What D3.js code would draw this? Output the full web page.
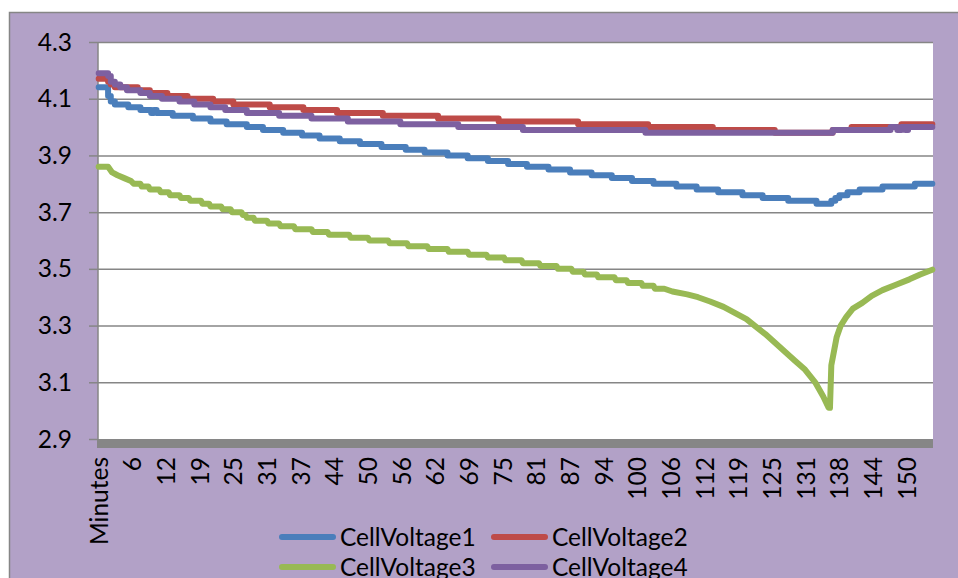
<!DOCTYPE html>
<html>
<head>
<meta charset="utf-8">
<script src="https://cdn.jsdelivr.net/npm/d3@7"></script>
<style>
  html, body { margin: 0; padding: 0; background: #ffffff; }
  svg { display: block; font-family: Lato, "Open Sans", sans-serif; }
</style>
</head>
<body>
<svg id="chart" width="958" height="578"></svg>
<script>
// ---------------- DATA ----------------
const seriesNames = ["CellVoltage1", "CellVoltage2", "CellVoltage3", "CellVoltage4"];
const seriesColors = ["#4a7ebb", "#be4b48", "#98b954", "#7d60a0"];

const yTicks = [2.9, 3.1, 3.3, 3.5, 3.7, 3.9, 4.1, 4.3];

const xTickLabels = ["Minutes", "6", "12", "19", "25", "31", "37", "44", "50", "56", "62", "69",
  "75", "81", "87", "94", "100", "106", "112", "119", "125", "131", "138", "144", "150"];
const xTickMinutes = [0, 6.25, 12.5, 18.75, 25, 31.25, 37.5, 43.75, 50, 56.25, 62.5, 68.75,
  75, 81.25, 87.5, 93.75, 100, 106.25, 112.5, 118.75, 125, 131.25, 137.5, 143.75, 150];

// step-change points [minute, volts] (value held until next point)
const cellVoltage1 = [[0,4.14],[1.75,4.11],[2.25,4.09],[3,4.08],[5.5,4.07],[7.75,4.06],[9.75,4.05],[10.25,4.06],
  [10.75,4.05],[13.75,4.04],[17.5,4.03],[20.75,4.02],[23.75,4.01],[27.5,4.00],[30.5,3.99],[34.25,3.98],
  [37.75,3.97],[41,3.96],[44.75,3.95],[48.5,3.94],[52.5,3.93],[57,3.92],[60.5,3.91],[64.75,3.90],
  [68.5,3.89],[72.25,3.88],[76,3.87],[79.5,3.86],[83.5,3.85],[87.5,3.84],[91.5,3.83],[95.25,3.82],
  [99,3.81],[103,3.80],[107.25,3.79],[111,3.78],[115,3.77],[119.5,3.76],[123.25,3.75],[128,3.74],
  [133.25,3.73],[136,3.74],[136.75,3.75],[137.5,3.76],[139,3.77],[141.25,3.78],[145.5,3.79],
  [151.5,3.80],[154.75,3.80]];

const cellVoltage2 = [[0,4.17],[1.75,4.16],[2.25,4.15],[3,4.14],[7.25,4.13],[9.5,4.12],[12.75,4.11],
  [16.5,4.10],[21.25,4.09],[25,4.08],[31.75,4.07],[38,4.06],[44.25,4.05],[52.75,4.04],[63,4.03],
  [74.25,4.02],[89,4.01],[102,4.00],[114,3.99],[125.5,3.98],[136.25,3.99],[139.75,4.00],[149,4.01],
  [154.75,4.01]];

const cellVoltage3 = [[0,3.86],[1.75,3.86],[2.5,3.84],[3.5,3.83],[4.75,3.82],[6,3.81],[6.5,3.80],[7.75,3.80],
  [8,3.79],[9.25,3.79],[9.5,3.78],[11.25,3.78],[11.5,3.77],[13,3.77],[13.25,3.76],[15,3.76],[15.25,3.75],
  [16.75,3.75],[17,3.74],[19,3.74],[19.25,3.73],[20.5,3.73],[20.75,3.72],[22.75,3.72],[23,3.71],[24.5,3.71],
  [24.75,3.70],[26.5,3.70],[26.75,3.69],[27.25,3.69],[27.5,3.68],[28.75,3.68],[29,3.67],[31.25,3.67],
  [31.5,3.66],[33.5,3.66],[33.75,3.65],[36.25,3.65],[36.5,3.64],[39.5,3.64],[39.75,3.63],[42.5,3.63],
  [42.75,3.62],[46.5,3.62],[46.75,3.61],[50,3.61],[50.25,3.60],[53.75,3.60],[54,3.59],[57.25,3.59],
  [57.5,3.58],[61,3.58],[61.25,3.57],[64.75,3.57],[65,3.56],[68.5,3.56],[68.75,3.55],[72,3.55],
  [72.25,3.54],[75.25,3.54],[75.5,3.53],[78.5,3.53],[78.75,3.52],[81.75,3.52],[82,3.51],[85,3.51],
  [85.25,3.50],[87.75,3.50],[88,3.49],[90,3.49],[90.25,3.48],[92.5,3.48],[92.75,3.47],[95.75,3.47],
  [96,3.46],[98,3.46],[98.25,3.45],[100.75,3.45],[101,3.44],[103,3.44],[103.25,3.43],[105,3.43],
  [106.5,3.42],[109.25,3.41],[111.25,3.40],[113.5,3.385],[116,3.366],[118.25,3.343],[120.25,3.323],
  [121.75,3.30],[123.75,3.27],[125.5,3.24],[127.5,3.206],[129.25,3.176],[131,3.147],[133,3.10],
  [134.5,3.05],[135.5,3.01],[135.75,3.01],[136,3.16],[136.5,3.21],[137,3.26],[137.75,3.30],
  [138.75,3.33],[140,3.36],[141.75,3.38],[143.5,3.405],[145.5,3.425],[148,3.444],[150.5,3.463],
  [152.5,3.48],[154.75,3.497]];

const cellVoltage4 = [[0,4.19],[1.75,4.18],[2.25,4.16],[3,4.15],[4,4.14],[5.25,4.13],[7.75,4.12],
  [9.5,4.11],[11.75,4.10],[15,4.09],[17.75,4.08],[20.75,4.07],[23.5,4.06],[27.5,4.05],[33.5,4.04],
  [39.5,4.03],[46.25,4.02],[56,4.01],[66.75,4.00],[78.75,3.99],[101.5,3.98],[136.25,3.99],
  [147,4.00],[148.25,3.99],[149,4.00],[149.75,3.99],[150.25,4.00],[154.75,4.00]];

// ---------------- LAYOUT ----------------
const W = 958, H = 578;
const plot = { left: 98, top: 42, right: 933, bottom: 439 };
const bg = "#b2a1c7", gridColor = "#868686";
const fontSize = 24.5;
const lineWidth = 6;

const svg = d3.select("#chart");

const x = d3.scaleLinear().domain([-0.125, 154.875]).range([plot.left, plot.right]);
const y = d3.scaleLinear().domain([2.9, 4.3]).range([plot.bottom, plot.top]);

// chart area
svg.append("rect").attr("x", 0).attr("y", 0).attr("width", W).attr("height", H).attr("fill", "#ffffff");
svg.append("rect").attr("x", 9.5).attr("y", 12.5).attr("width", W + 20).attr("height", H + 20)
  .attr("fill", bg).attr("stroke", gridColor).attr("stroke-width", 1.5);

// plot area
svg.append("rect").attr("x", plot.left).attr("y", plot.top)
  .attr("width", plot.right - plot.left).attr("height", plot.bottom - plot.top).attr("fill", "#ffffff");

// gridlines
svg.append("g").attr("transform", `translate(${plot.left},0)`)
  .call(d3.axisLeft(y).tickValues(yTicks.filter(v => v > 2.9)).tickSize(-(plot.right - plot.left)).tickFormat(""))
  .call(g => g.select(".domain").remove())
  .call(g => g.selectAll("line").attr("stroke", gridColor).attr("stroke-width", 1.5));

// y axis
svg.append("g").attr("transform", `translate(${plot.left},0)`)
  .call(d3.axisLeft(y).tickValues(yTicks).tickSize(9).tickPadding(17).tickFormat(d3.format(".1f")))
  .call(g => g.select(".domain").remove())
  .call(g => g.selectAll("line").attr("stroke", gridColor).attr("stroke-width", 1.5))
  .call(g => g.selectAll("text").attr("font-size", fontSize).attr("font-family", "Lato")
    .attr("fill", "#000").attr("dy", "0.33em"));

svg.append("line").attr("x1", plot.left).attr("x2", plot.left)
  .attr("y1", plot.top).attr("y2", plot.bottom + 9)
  .attr("stroke", gridColor).attr("stroke-width", 1.5);

// x axis (thick band)
svg.append("rect").attr("x", plot.left - 1).attr("y", plot.bottom)
  .attr("width", plot.right - plot.left + 1).attr("height", 9).attr("fill", gridColor);

svg.append("g").attr("transform", `translate(0,${plot.bottom})`)
  .call(d3.axisBottom(x).tickValues(xTickMinutes).tickSize(0).tickFormat((d, i) => xTickLabels[i]))
  .call(g => g.select(".domain").remove())
  .call(g => g.selectAll("text")
    .attr("font-size", fontSize).attr("font-family", "Lato").attr("fill", "#000")
    .attr("transform", "rotate(-90)")
    .attr("text-anchor", "end")
    .attr("x", -18).attr("y", 8.5).attr("dy", null));

// series
const seriesData = [cellVoltage1, cellVoltage2, cellVoltage3, cellVoltage4];
const stepLine = d3.line().x(d => x(d[0])).y(d => y(d[1])).curve(d3.curveStepAfter);
const smoothLine = d3.line().x(d => x(d[0])).y(d => y(d[1])).curve(d3.curveLinear);

seriesData.forEach((data, i) => {
  svg.append("path")
    .attr("d", i === 2 ? smoothLine(data) : stepLine(data))
    .attr("fill", "none")
    .attr("stroke", seriesColors[i])
    .attr("stroke-width", lineWidth)
    .attr("stroke-linejoin", "round")
    .attr("stroke-linecap", "round");
});

// legend
const legendItems = [
  { name: seriesNames[0], color: seriesColors[0], x: 282, y: 537 },
  { name: seriesNames[1], color: seriesColors[1], x: 494, y: 537 },
  { name: seriesNames[2], color: seriesColors[2], x: 282, y: 567 },
  { name: seriesNames[3], color: seriesColors[3], x: 494, y: 567 }
];
const lg = svg.append("g");
legendItems.forEach(it => {
  lg.append("line").attr("x1", it.x).attr("x2", it.x + 51).attr("y1", it.y).attr("y2", it.y)
    .attr("stroke", it.color).attr("stroke-width", lineWidth).attr("stroke-linecap", "round");
  lg.append("text").attr("x", it.x + 58).attr("y", it.y + 8.5)
    .attr("font-size", fontSize).attr("font-family", "Lato").attr("fill", "#000")
    .text(it.name);
});
</script>
</body>
</html>
